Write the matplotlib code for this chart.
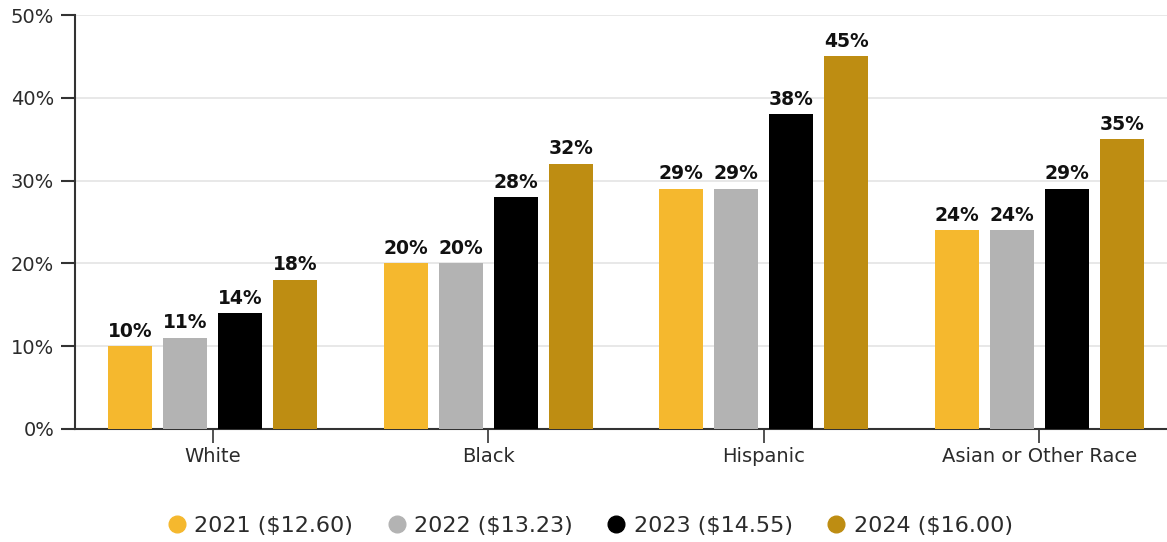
import matplotlib.pyplot as plt
import numpy as np
from matplotlib.lines import Line2D

groups = ["White", "Black", "Hispanic", "Asian or Other Race"]
series = ["2021 ($12.60)", "2022 ($13.23)", "2023 ($14.55)", "2024 ($16.00)"]
share_2021 = [10, 20, 29, 24]
share_2022 = [11, 20, 29, 24]
share_2023 = [14, 28, 38, 29]
share_2024 = [18, 32, 45, 35]
colors = ["#F5B82E", "#B3B3B3", "#000000", "#BE8D12"]

plt.rcParams["font.family"] = "DejaVu Sans"
text_color = "#2b2b2b"

fig = plt.figure(figsize=(11.67, 5.42), dpi=100)
ax = fig.add_axes([75 / 1167, 1 - 429 / 542, 1102 / 1167, 414 / 542])

x = np.arange(len(groups))
slot = 0.2
width = 0.16
all_values = [share_2021, share_2022, share_2023, share_2024]
for i, (vals, col) in enumerate(zip(all_values, colors)):
    offset = (i - 1.5) * slot
    rects = ax.bar(x + offset, vals, width, color=col, zorder=3)
    ax.bar_label(rects, labels=[f"{v}%" for v in vals], padding=4,
                 fontsize=13.5, fontweight="bold", color="#111111")

ax.set_xlim(-0.5, 3.5)
ax.set_ylim(0, 50)
ax.set_yticks(range(0, 51, 10))
ax.set_yticklabels([f"{t}%" for t in range(0, 51, 10)])
ax.set_xticks(x, groups)

ax.grid(axis="y", color="#e4e4e4", linewidth=1.2, zorder=0)
ax.set_axisbelow(True)
for side in ["top", "right"]:
    ax.spines[side].set_visible(False)
for side in ["left", "bottom"]:
    ax.spines[side].set_color("#333333")
    ax.spines[side].set_linewidth(1.5)

ax.tick_params(axis="y", length=10, width=1.5, color="#333333", pad=5,
               labelsize=14, labelcolor=text_color)
ax.tick_params(axis="x", length=10, width=1.2, color="#333333", pad=3,
               labelsize=14, labelcolor=text_color)

handles = [Line2D([], [], linestyle="none", marker="o", markersize=12,
                  markerfacecolor=c, markeredgecolor=c) for c in colors]
fig.legend(handles, series, loc="lower center", bbox_to_anchor=(0.505, -0.025),
           ncols=4, frameon=False, fontsize=16, handlelength=1.0,
           handletextpad=0.3, columnspacing=1.45, labelcolor=text_color)

fig.savefig("out.png", dpi=100)
